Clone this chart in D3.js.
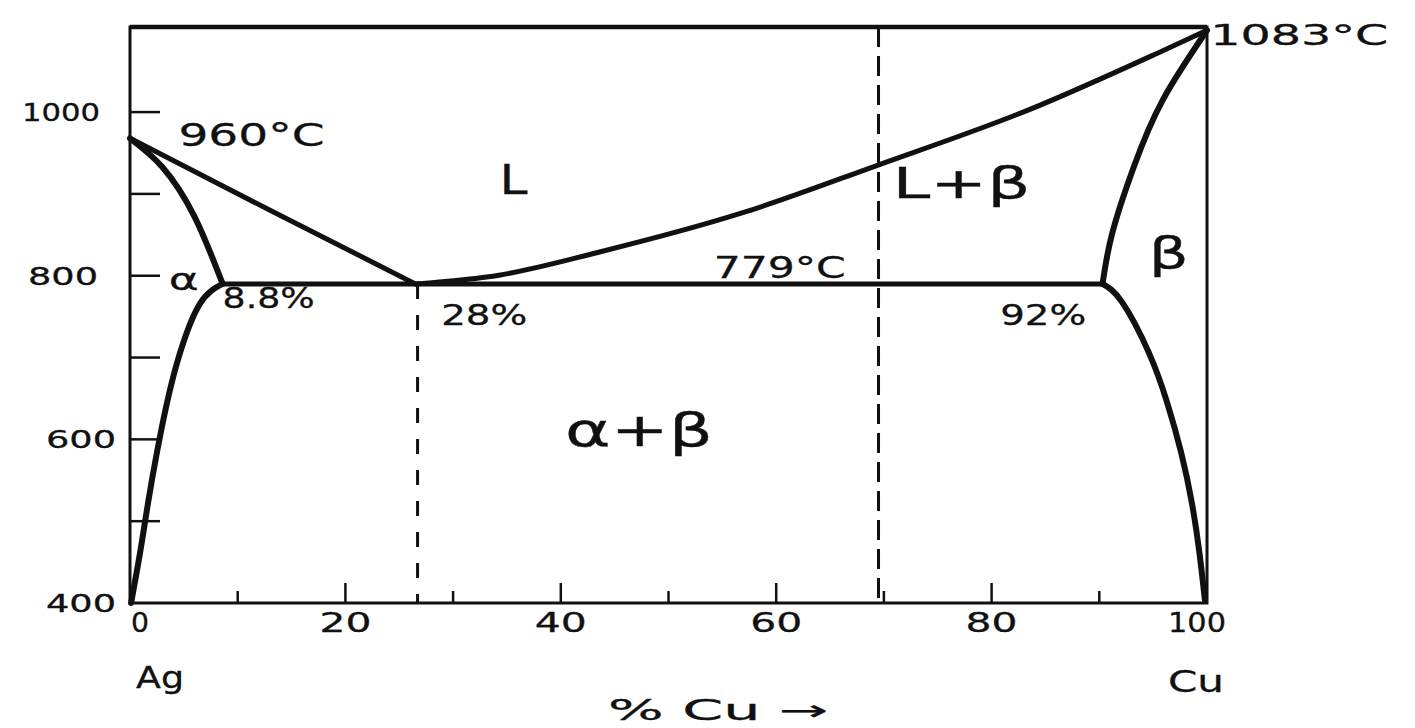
<!DOCTYPE html>
<html>
<head>
<meta charset="utf-8">
<script src="https://cdn.jsdelivr.net/npm/d3@7"></script>
<style>
  html, body { margin: 0; padding: 0; background: #fff; }
  svg { display: block; }
  text { font-family: "DejaVu Sans", sans-serif; fill: #111; stroke: #111; stroke-width: 0.3px; }
</style>
</head>
<body>
<svg id="chart" width="1415" height="728"></svg>
<script>
// ---------- data ----------
const xMajorTicks = [0, 20, 40, 60, 80, 100];
const xMinorTicks = [10, 30, 50, 70, 90];
const yTicks = [500, 600, 700, 800, 900, 1000];
const yTickLabels = [400, 600, 800, 1000];

const liquidusLeft  = [[0, 968], [13, 880], [26.5, 790]];
const liquidusRight = [[26.5, 790], [34.4, 801], [43.6, 829], [56.9, 877], [69.4, 935], [83.5, 1003], [95.4, 1072], [100, 1100]];
const solidusAlpha  = [[0, 968], [3, 933], [6, 872], [8.6, 790]];
const solvusAlpha   = [[8.6, 790], [6.5, 766], [4.65, 706], [3.44, 645], [2.5, 584], [1.67, 522], [0.93, 461], [0.1, 400]];
const eutecticLine  = [[8.6, 790], [90.3, 790]];
const solidusBeta   = [[90.3, 790], [91.2, 852], [93.2, 933], [95.9, 1015], [100, 1100]];
const solvusBeta    = [[90.3, 790], [92.1, 768], [94.6, 706], [96.3, 645], [97.6, 584], [98.6, 522], [99.3, 461], [99.8, 404]];
const dashedLeft    = [[26.7, 790], [26.7, 400]];
const dashedRight   = [[69.5, 1104], [69.5, 400]];

// labels: text, position (% Cu, °C), size, width
const regionLabels = [
  {t: "960°C", x: 4.5,  T: 959, size: 32, len: 146},
  {t: "L",     x: 34.3, T: 900, size: 40, len: 28},
  {t: "L+β",   x: 70.8, T: 895, size: 42, len: 138},
  {t: "β",     x: 94.6, T: 810, size: 42, len: 40},
  {t: "α",     x: 3.6,  T: 782, size: 30, len: 30},
  {t: "779°C", x: 54.2, T: 797, size: 30, len: 132},
  {t: "8.8%",  x: 8.6,  T: 760, size: 28, len: 92},
  {t: "28%",   x: 28.9, T: 740, size: 28, len: 86},
  {t: "92%",   x: 80.8, T: 740, size: 28, len: 86},
  {t: "α+β",   x: 40.4, T: 592, size: 46, len: 148},
  {t: "1083°C",x: 100.3,T: 1082, size: 28, len: 178}
];

// ---------- scales ----------
const svg = d3.select("#chart");
const x = d3.scaleLinear().domain([0, 100]).range([130, 1207]);
const y = d3.scaleLinear().domain([400, 1104]).range([603, 27]);

const lineX = d3.line().x(d => x(d[0])).y(d => y(d[1])).curve(d3.curveMonotoneX);
const smooth = d3.line().x(d => x(d[0])).y(d => y(d[1])).curve(d3.curveNatural);
const straight = d3.line().x(d => x(d[0])).y(d => y(d[1]));

// ---------- frame ----------
svg.append("rect")
  .attr("x", x(0)).attr("y", y(1104))
  .attr("width", x(100) - x(0)).attr("height", y(400) - y(1104))
  .attr("fill", "none").attr("stroke", "#111").attr("stroke-width", 3);
svg.append("line")
  .attr("x1", x(0)).attr("x2", x(100)).attr("y1", y(1104)).attr("y2", y(1104))
  .attr("stroke", "#111").attr("stroke-width", 4.5);

// y ticks (inward)
svg.selectAll(".ytick").data(yTicks).join("line")
  .attr("x1", x(0)).attr("x2", x(0) + 30)
  .attr("y1", d => y(d)).attr("y2", d => y(d))
  .attr("stroke", "#111").attr("stroke-width", 2.5);

// x ticks (inward)
svg.selectAll(".xtick").data(xMajorTicks.filter(d => d > 0 && d < 100)).join("line")
  .attr("x1", d => x(d)).attr("x2", d => x(d))
  .attr("y1", y(400)).attr("y2", y(400) - 20)
  .attr("stroke", "#111").attr("stroke-width", 2.5);
svg.selectAll(".xmtick").data(xMinorTicks).join("line")
  .attr("x1", d => x(d)).attr("x2", d => x(d))
  .attr("y1", y(400)).attr("y2", y(400) - 12)
  .attr("stroke", "#111").attr("stroke-width", 2.5);

// tick labels
svg.selectAll(".ylab").data(yTickLabels).join("text")
  .attr("x", d => d === 1000 ? 100 : d === 800 ? 98 : 116)
  .attr("y", d => y(d) + 9)
  .attr("text-anchor", "end")
  .attr("font-size", 24)
  .attr("textLength", d => d === 1000 ? 78 : 70)
  .attr("lengthAdjust", "spacingAndGlyphs")
  .text(d => d);

svg.selectAll(".xlab").data(xMajorTicks).join("text")
  .attr("x", d => x(d) + (d === 0 ? 10 : d === 100 ? -10 : 0))
  .attr("y", 632)
  .attr("text-anchor", "middle")
  .attr("font-size", 26)
  .attr("textLength", d => d === 0 ? 18 : d === 100 ? 58 : 52)
  .attr("lengthAdjust", "spacingAndGlyphs")
  .text(d => d);

// axis names
svg.append("text").attr("x", 160).attr("y", 688).attr("text-anchor", "middle")
  .attr("font-size", 30).attr("textLength", 48).attr("lengthAdjust", "spacingAndGlyphs").text("Ag");
svg.append("text").attr("x", 1196).attr("y", 692).attr("text-anchor", "middle")
  .attr("font-size", 30).attr("textLength", 56).attr("lengthAdjust", "spacingAndGlyphs").text("Cu");
svg.append("text").attr("x", 608).attr("y", 720)
  .attr("font-size", 28).attr("textLength", 220).attr("lengthAdjust", "spacingAndGlyphs")
  .text("% Cu →");

// ---------- dashed lines ----------
svg.append("path").attr("d", straight(dashedLeft))
  .attr("fill", "none").attr("stroke", "#111").attr("stroke-width", 3)
  .attr("stroke-dasharray", "15 16");
svg.append("path").attr("d", straight(dashedRight))
  .attr("fill", "none").attr("stroke", "#111").attr("stroke-width", 3)
  .attr("stroke-dasharray", "20 9");

// ---------- phase boundaries ----------
const curves = [
  {d: liquidusLeft, w: 5, g: straight},
  {d: liquidusRight, w: 5, g: lineX},
  {d: solidusAlpha, w: 6, g: smooth},
  {d: solvusAlpha, w: 6, g: smooth},
  {d: eutecticLine, w: 5, g: straight},
  {d: solidusBeta, w: 6, g: smooth},
  {d: solvusBeta, w: 6, g: smooth}
];
svg.selectAll(".curve").data(curves).join("path")
  .attr("d", c => c.g(c.d))
  .attr("fill", "none").attr("stroke", "#111")
  .attr("stroke-width", c => c.w)
  .attr("stroke-linecap", "round").attr("stroke-linejoin", "round");

// ---------- region labels ----------
svg.selectAll(".rlab").data(regionLabels).join("text")
  .attr("x", d => x(d.x)).attr("y", d => y(d.T))
  .attr("font-size", d => d.size)
  .attr("textLength", d => d.len).attr("lengthAdjust", "spacingAndGlyphs")
  .text(d => d.t);
</script>
</body>
</html>
